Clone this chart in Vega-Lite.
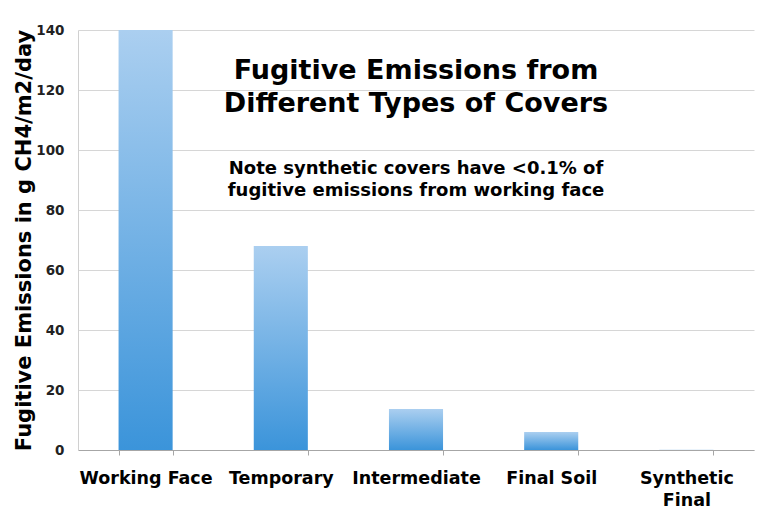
{
  "$schema": "https://vega.github.io/schema/vega-lite/v6.json",
  "width": 676,
  "height": 420,
  "autosize": "none",
  "padding": {"left": 78, "top": 30, "right": 6, "bottom": 58},
  "background": "white",
  "data": {"values": [
    {"cover": "Working Face", "emissions": 140},
    {"cover": "Temporary", "emissions": 68},
    {"cover": "Intermediate", "emissions": 13.7},
    {"cover": "Final Soil", "emissions": 6},
    {"cover": "Synthetic Final", "emissions": 0.1}
  ]},
  "title": {
    "text": ["Fugitive Emissions from", "Different Types of Covers"],
    "subtitle": ["Note synthetic covers have <0.1% of", "fugitive emissions from working face"],
    "anchor": "middle",
    "orient": "top",
    "offset": -178,
    "font": "DejaVu Sans",
    "fontSize": 27,
    "fontWeight": "bold",
    "color": "black",
    "lineHeight": 33,
    "subtitleFont": "DejaVu Sans",
    "subtitleFontSize": 18,
    "subtitleFontWeight": "bold",
    "subtitleColor": "black",
    "subtitleLineHeight": 22,
    "subtitlePadding": 42
  },
  "mark": {
    "type": "bar",
    "color": {
      "gradient": "linear", "x1": 0, "y1": 0, "x2": 0, "y2": 1,
      "stops": [{"offset": 0, "color": "#abcff0"}, {"offset": 1, "color": "#3b94da"}]
    }
  },
  "encoding": {
    "x": {
      "field": "cover", "type": "nominal", "sort": null,
      "scale": {"paddingInner": 0.6, "paddingOuter": 0.3},
      "axis": {
        "title": null, "labelAngle": 0, "labelFont": "DejaVu Sans", "labelFontSize": 17.5,
        "labelFontWeight": "bold", "labelColor": "black", "labelPadding": 14,
        "labelExpr": "datum.label == 'Synthetic Final' ? ['Synthetic', 'Final'] : datum.label",
        "labelLineHeight": 22,
        "domainColor": "#a6a6a6", "tickColor": "#a6a6a6", "tickBand": "extent", "tickSize": 5
      }
    },
    "y": {
      "field": "emissions", "type": "quantitative",
      "scale": {"domain": [0, 140], "nice": false},
      "axis": {
        "title": "Fugitive Emissions in g CH4/m2/day", "titleFont": "DejaVu Sans", "titleFontSize": 21,
        "titleFontWeight": "bold", "titleColor": "black", "titlePadding": 1,
        "values": [0, 20, 40, 60, 80, 100, 120, 140],
        "labelFont": "DejaVu Sans", "labelFontSize": 13.5, "labelFontWeight": "bold", "labelColor": "#222",
        "labelPadding": 14, "ticks": false, "domainColor": "#d0d0d0",
        "gridColor": "#d6d6d6"
      }
    }
  },
  "config": {"view": {"stroke": null}}
}
